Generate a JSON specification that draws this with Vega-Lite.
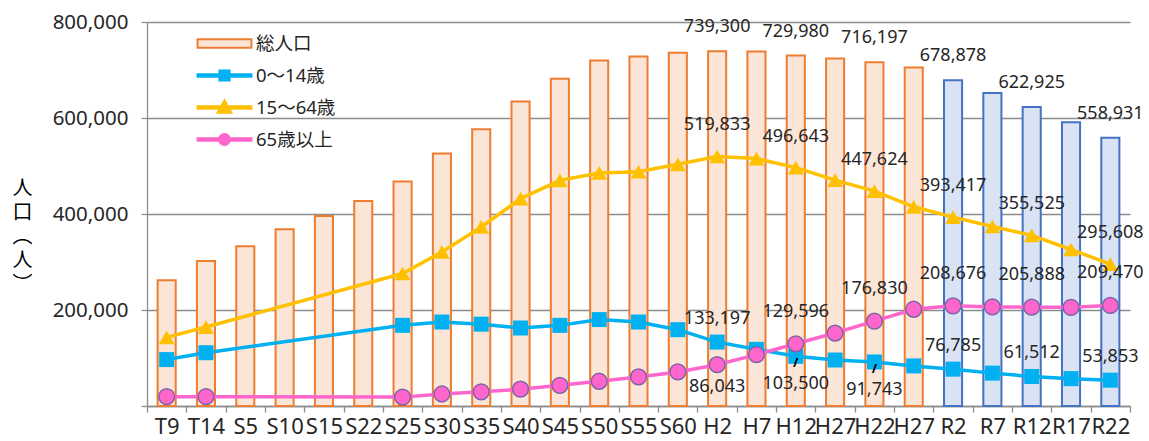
{
  "$schema": "https://vega.github.io/schema/vega-lite/v6.json",
  "width": 983,
  "height": 384,
  "autosize": "none",
  "padding": {"left": 147, "top": 22, "right": 19, "bottom": 35},
  "background": "white",
  "config": {
    "view": {"stroke": null},
    "font": "Noto Sans, Noto Sans CJK JP",
    "text": {"font": "Noto Sans, Noto Sans CJK JP", "fontSize": 18, "color": "#262626"}
  },
  "datasets": {
    "pop": [
      {"cat": "T9", "series": "総人口", "value": 262000},
      {"cat": "T14", "series": "総人口", "value": 302000},
      {"cat": "S5", "series": "総人口", "value": 333000},
      {"cat": "S10", "series": "総人口", "value": 368000},
      {"cat": "S15", "series": "総人口", "value": 396000},
      {"cat": "S22", "series": "総人口", "value": 427000},
      {"cat": "S25", "series": "総人口", "value": 467500},
      {"cat": "S30", "series": "総人口", "value": 526000},
      {"cat": "S35", "series": "総人口", "value": 576500},
      {"cat": "S40", "series": "総人口", "value": 634500},
      {"cat": "S45", "series": "総人口", "value": 682000},
      {"cat": "S50", "series": "総人口", "value": 720000},
      {"cat": "S55", "series": "総人口", "value": 728000},
      {"cat": "S60", "series": "総人口", "value": 736000},
      {"cat": "H2", "series": "総人口", "value": 739300},
      {"cat": "H7", "series": "総人口", "value": 738500},
      {"cat": "H12", "series": "総人口", "value": 729980},
      {"cat": "H17", "series": "総人口", "value": 724000},
      {"cat": "H22", "series": "総人口", "value": 716197},
      {"cat": "H27", "series": "総人口", "value": 705000},
      {"cat": "R2", "series": "総人口", "value": 678878},
      {"cat": "R7", "series": "総人口", "value": 652000},
      {"cat": "R12", "series": "総人口", "value": 622925},
      {"cat": "R17", "series": "総人口", "value": 591000},
      {"cat": "R22", "series": "総人口", "value": 558931},

      {"cat": "T9", "series": "0～14歳", "value": 96700},
      {"cat": "T14", "series": "0～14歳", "value": 111000},
      {"cat": "S25", "series": "0～14歳", "value": 168000},
      {"cat": "S30", "series": "0～14歳", "value": 175000},
      {"cat": "S35", "series": "0～14歳", "value": 170500},
      {"cat": "S40", "series": "0～14歳", "value": 162500},
      {"cat": "S45", "series": "0～14歳", "value": 168000},
      {"cat": "S50", "series": "0～14歳", "value": 180000},
      {"cat": "S55", "series": "0～14歳", "value": 175000},
      {"cat": "S60", "series": "0～14歳", "value": 159000},
      {"cat": "H2", "series": "0～14歳", "value": 133197},
      {"cat": "H7", "series": "0～14歳", "value": 118000},
      {"cat": "H12", "series": "0～14歳", "value": 103500},
      {"cat": "H17", "series": "0～14歳", "value": 95800},
      {"cat": "H22", "series": "0～14歳", "value": 91743},
      {"cat": "H27", "series": "0～14歳", "value": 83500},
      {"cat": "R2", "series": "0～14歳", "value": 76785},
      {"cat": "R7", "series": "0～14歳", "value": 68500},
      {"cat": "R12", "series": "0～14歳", "value": 61512},
      {"cat": "R17", "series": "0～14歳", "value": 57000},
      {"cat": "R22", "series": "0～14歳", "value": 53853},

      {"cat": "T9", "series": "15～64歳", "value": 143000},
      {"cat": "T14", "series": "15～64歳", "value": 164500},
      {"cat": "S25", "series": "15～64歳", "value": 276000},
      {"cat": "S30", "series": "15～64歳", "value": 321000},
      {"cat": "S35", "series": "15～64歳", "value": 373000},
      {"cat": "S40", "series": "15～64歳", "value": 432000},
      {"cat": "S45", "series": "15～64歳", "value": 470000},
      {"cat": "S50", "series": "15～64歳", "value": 485500},
      {"cat": "S55", "series": "15～64歳", "value": 488000},
      {"cat": "S60", "series": "15～64歳", "value": 503500},
      {"cat": "H2", "series": "15～64歳", "value": 519833},
      {"cat": "H7", "series": "15～64歳", "value": 515500},
      {"cat": "H12", "series": "15～64歳", "value": 496643},
      {"cat": "H17", "series": "15～64歳", "value": 470500},
      {"cat": "H22", "series": "15～64歳", "value": 447624},
      {"cat": "H27", "series": "15～64歳", "value": 415000},
      {"cat": "R2", "series": "15～64歳", "value": 393417},
      {"cat": "R7", "series": "15～64歳", "value": 374000},
      {"cat": "R12", "series": "15～64歳", "value": 355525},
      {"cat": "R17", "series": "15～64歳", "value": 326000},
      {"cat": "R22", "series": "15～64歳", "value": 295608},

      {"cat": "T9", "series": "65歳以上", "value": 19500},
      {"cat": "T14", "series": "65歳以上", "value": 19500},
      {"cat": "S25", "series": "65歳以上", "value": 18500},
      {"cat": "S30", "series": "65歳以上", "value": 25000},
      {"cat": "S35", "series": "65歳以上", "value": 29500},
      {"cat": "S40", "series": "65歳以上", "value": 35000},
      {"cat": "S45", "series": "65歳以上", "value": 43000},
      {"cat": "S50", "series": "65歳以上", "value": 51500},
      {"cat": "S55", "series": "65歳以上", "value": 60500},
      {"cat": "S60", "series": "65歳以上", "value": 71000},
      {"cat": "H2", "series": "65歳以上", "value": 86043},
      {"cat": "H7", "series": "65歳以上", "value": 107000},
      {"cat": "H12", "series": "65歳以上", "value": 129596},
      {"cat": "H17", "series": "65歳以上", "value": 152000},
      {"cat": "H22", "series": "65歳以上", "value": 176830},
      {"cat": "H27", "series": "65歳以上", "value": 201500},
      {"cat": "R2", "series": "65歳以上", "value": 208676},
      {"cat": "R7", "series": "65歳以上", "value": 206500},
      {"cat": "R12", "series": "65歳以上", "value": 205888},
      {"cat": "R17", "series": "65歳以上", "value": 205500},
      {"cat": "R22", "series": "65歳以上", "value": 209470}
    ]
  },
  "data": {"name": "pop"},
  "encoding": {
    "x": {
      "field": "cat",
      "type": "nominal",
      "scale": {
        "type": "band",
        "paddingInner": 0,
        "paddingOuter": 0,
        "domain": ["T9","T14","S5","S10","S15","S22","S25","S30","S35","S40","S45","S50","S55","S60","H2","H7","H12","H17","H22","H27","R2","R7","R12","R17","R22"]
      },
      "axis": {
        "title": null,
        "labelAngle": 0,
        "labelExpr": "datum.value == 'H17' ? 'H27' : datum.value",
        "labelFontSize": 22,
        "labelColor": "#262626",
        "labelPadding": 4,
        "tickBand": "extent",
        "tickSize": 6,
        "tickColor": "#8c8c8c",
        "tickWidth": 1.3,
        "domainColor": "#8c8c8c",
        "domainWidth": 1.3
      }
    },
    "y": {
      "field": "value",
      "type": "quantitative",
      "scale": {"domain": [0, 800000], "nice": false},
      "axis": {
        "values": [0, 200000, 400000, 600000, 800000],
        "labelExpr": "datum.value == 0 ? '' : format(datum.value, ',')",
        "labelFontSize": 20.5,
        "labelColor": "#262626",
        "labelPadding": 13,
        "tickSize": 6,
        "tickColor": "#8c8c8c",
        "tickWidth": 1.3,
        "domainColor": "#8c8c8c",
        "domainWidth": 1.3,
        "grid": true,
        "gridColor": "#8c8c8c",
        "gridWidth": 1.3,
        "title": ["人", "口", "︵", "人", "︶"],
        "titleAngle": 0,
        "titleFont": "Noto Sans CJK JP",
        "titleFontSize": 20,
        "titleFontWeight": "normal",
        "titleColor": "#000000",
        "titleLineHeight": 24,
        "titleX": -125,
        "titleY": 166,
        "titleAlign": "center",
        "titleBaseline": "middle"
      }
    }
  },
  "layer": [
    {
      "transform": [{"filter": "datum.series == '総人口'"}],
      "mark": {"type": "bar", "width": {"band": 0.46}, "strokeWidth": 2},
      "encoding": {
        "fill": {"condition": {"test": "substring(datum.cat, 0, 1) == 'R'", "value": "#DAE3F3"}, "value": "#FBE5D6"},
        "stroke": {"condition": {"test": "substring(datum.cat, 0, 1) == 'R'", "value": "#4472C4"}, "value": "#ED7D31"}
      }
    },
    {
      "transform": [{"filter": "datum.series == '0～14歳'"}],
      "mark": {"type": "line", "color": "#00B0F0", "strokeWidth": 3.5}
    },
    {
      "transform": [{"filter": "datum.series == '15～64歳'"}],
      "mark": {"type": "line", "color": "#FFC000", "strokeWidth": 3.5}
    },
    {
      "transform": [{"filter": "datum.series == '65歳以上'"}],
      "mark": {"type": "line", "color": "#FF66CC", "strokeWidth": 3.5}
    },
    {
      "transform": [{"filter": "datum.series == '0～14歳'"}],
      "mark": {"type": "point", "shape": "square", "size": 225, "filled": true, "fill": "#00B0F0", "opacity": 1}
    },
    {
      "transform": [{"filter": "datum.series == '15～64歳'"}],
      "mark": {"type": "point", "shape": "triangle-up", "size": 250, "filled": true, "fill": "#FFC000", "opacity": 1}
    },
    {
      "transform": [{"filter": "datum.series == '65歳以上'"}],
      "mark": {"type": "point", "shape": "circle", "size": 250, "filled": true, "fill": "#FF66CC", "stroke": "#7F63A8", "strokeWidth": 1.5, "opacity": 1}
    },
    {
      "transform": [{"filter": "datum.value < 0"}],
      "mark": {"type": "point", "filled": true, "opacity": 1},
      "encoding": {
        "shape": {
          "field": "series",
          "type": "nominal",
          "scale": {
            "domain": ["総人口", "0～14歳", "15～64歳", "65歳以上"],
            "range": [
              "M-1.86,-0.3H1.86V0.3H-1.86Z",
              "M-1.86,-0.09H1.86V0.09H-1.86Z M-0.35,-0.35H0.35V0.35H-0.35Z",
              "M-1.86,-0.09H1.86V0.09H-1.86Z M0,-0.5L0.48,0.36H-0.48Z",
              "M-1.86,-0.09H1.86V0.09H-1.86Z M-0.38,0A0.38,0.38 0 1,1 0.38,0A0.38,0.38 0 1,1 -0.38,0Z"
            ]
          },
          "legend": {
            "title": null,
            "orient": "none",
            "legendX": 62,
            "legendY": 6,
            "padding": 0,
            "symbolSize": 841,
            "symbolStrokeWidth": 2,
            "labelOffset": 16,
            "labelFont": "Noto Sans, Noto Sans CJK JP",
            "labelFontSize": 18.5,
            "labelColor": "#262626",
            "rowPadding": 7
          }
        },
        "fill": {
          "field": "series",
          "type": "nominal",
          "scale": {
            "domain": ["総人口", "0～14歳", "15～64歳", "65歳以上"],
            "range": ["#FBE5D6", "#00B0F0", "#FFC000", "#FF66CC"]
          }
        },
        "stroke": {
          "field": "series",
          "type": "nominal",
          "scale": {
            "domain": ["総人口", "0～14歳", "15～64歳", "65歳以上"],
            "range": ["#ED7D31", "#00B0F0", "#FFC000", "#FF66CC"]
          }
        }
      }
    },
    {
      "data": {"values": [{"cat": "R2"}]},
      "mark": {"type": "rule", "stroke": "#FF0000", "strokeWidth": 2.5, "strokeDash": [7, 5]},
      "encoding": {
        "x": {"field": "cat", "type": "nominal", "bandPosition": 0},
        "y": {"datum": 860000, "type": "quantitative"},
        "y2": {"datum": -80000}
      }
    },
    {
      "data": {"values": [{"cat": "R12", "note": "R2以降は推計"}]},
      "mark": {"type": "point", "shape": "M-1,-0.13H1V0.13H-1Z", "size": 17161, "filled": true, "fill": "white", "opacity": 1},
      "encoding": {
        "y": {"datum": 800000, "type": "quantitative"}
      }
    },
    {
      "data": {"values": [{"cat": "R12", "note": "R2以降は推計"}]},
      "mark": {"type": "text", "color": "#FF0000", "fontSize": 18, "baseline": "middle", "dy": -7, "font": "Noto Sans, Noto Sans CJK JP"},
      "encoding": {
        "y": {"datum": 800000, "type": "quantitative"},
        "text": {"field": "note"}
      }
    },
    {
      "transform": [{"filter": "datum.series == '総人口' && indexof(['H2','H12','H22','R2','R12','R22'], datum.cat) >= 0"}],
      "mark": {"type": "text", "baseline": "middle", "dy": -24},
      "encoding": {"text": {"field": "value", "type": "quantitative", "format": ","}}
    },
    {
      "transform": [{"filter": "datum.series == '15～64歳' && indexof(['H2','H12','H22','R2','R12','R22'], datum.cat) >= 0"}],
      "mark": {"type": "text", "baseline": "middle", "dy": -31},
      "encoding": {"text": {"field": "value", "type": "quantitative", "format": ","}}
    },
    {
      "transform": [{"filter": "datum.series == '0～14歳' && indexof(['H2','R2','R12','R22'], datum.cat) >= 0"}],
      "mark": {"type": "text", "baseline": "middle", "dy": -23},
      "encoding": {"text": {"field": "value", "type": "quantitative", "format": ","}}
    },
    {
      "transform": [{"filter": "datum.series == '0～14歳' && indexof(['H12','H22'], datum.cat) >= 0"}],
      "mark": {"type": "text", "baseline": "middle", "dy": 28},
      "encoding": {"text": {"field": "value", "type": "quantitative", "format": ","}}
    },
    {
      "transform": [{"filter": "datum.series == '0～14歳' && indexof(['H12','H22'], datum.cat) >= 0"}],
      "mark": {"type": "text", "baseline": "middle", "dy": 7, "dx": 0, "text": "/", "fontSize": 13, "fontWeight": "bold", "color": "#000000"}
    },
    {
      "transform": [{"filter": "datum.series == '65歳以上' && indexof(['H2'], datum.cat) >= 0"}],
      "mark": {"type": "text", "baseline": "middle", "dy": 22},
      "encoding": {"text": {"field": "value", "type": "quantitative", "format": ","}}
    },
    {
      "transform": [{"filter": "datum.series == '65歳以上' && indexof(['H12','H22','R2','R12','R22'], datum.cat) >= 0"}],
      "mark": {"type": "text", "baseline": "middle", "dy": -32},
      "encoding": {"text": {"field": "value", "type": "quantitative", "format": ","}}
    }
  ]
}
